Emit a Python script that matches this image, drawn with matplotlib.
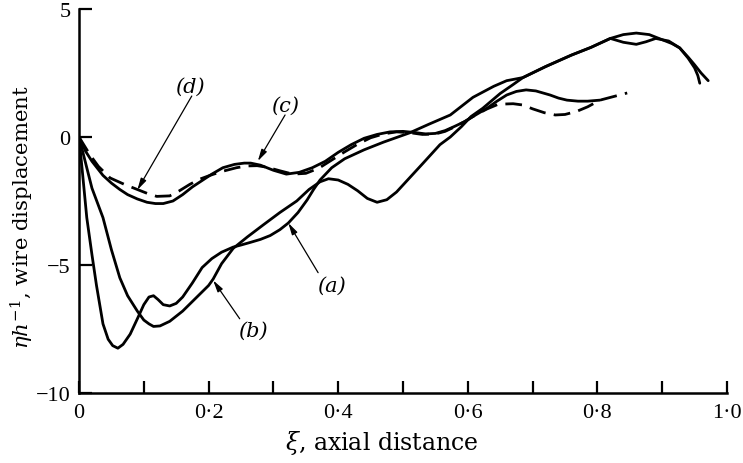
import numpy as np
import matplotlib.pyplot as plt

plt.rcParams['font.family'] = ['DejaVu Serif']
plt.rcParams['mathtext.fontset'] = 'dejavuserif'

# curve (a): deep minimum with a small bump
xa = [0, 0.005, 0.012, 0.02, 0.027, 0.037, 0.045, 0.052, 0.06, 0.068, 0.079, 0.091, 0.1,
      0.108, 0.115, 0.122, 0.13, 0.14, 0.15, 0.16, 0.175, 0.19, 0.205, 0.22, 0.238, 0.25,
      0.264, 0.28, 0.295, 0.31, 0.323, 0.338, 0.352, 0.362, 0.372, 0.39, 0.41, 0.44, 0.47,
      0.51, 0.54, 0.573, 0.608, 0.64, 0.66, 0.685, 0.72, 0.76, 0.79, 0.82, 0.84, 0.86,
      0.88, 0.9, 0.915, 0.927, 0.94, 0.95, 0.96, 0.971]
ya = [0, -1.3, -3.15, -4.6, -5.8, -7.3, -7.9, -8.15, -8.25, -8.1, -7.7, -7.05, -6.55,
      -6.25, -6.2, -6.35, -6.55, -6.6, -6.5, -6.25, -5.7, -5.1, -4.75, -4.5, -4.3, -4.22,
      -4.12, -4.0, -3.85, -3.62, -3.36, -2.95, -2.46, -2.05, -1.68, -1.2, -0.85, -0.5, -0.2,
      0.16, 0.5, 0.86, 1.55, 1.98, 2.2, 2.32, 2.75, 3.2, 3.5, 3.85, 4.0, 4.06,
      4.0, 3.8, 3.65, 3.48, 3.12, 2.82, 2.5, 2.2]

# curve (b)
xb = [0, 0.01, 0.02, 0.037, 0.05, 0.063, 0.075, 0.09, 0.1, 0.108, 0.115, 0.125, 0.14, 0.16,
      0.18, 0.2, 0.207, 0.22, 0.238, 0.26, 0.284, 0.31, 0.336, 0.355, 0.372, 0.385, 0.4,
      0.415, 0.43, 0.445, 0.46, 0.475, 0.49, 0.51, 0.53, 0.557, 0.573, 0.59, 0.605, 0.623,
      0.65, 0.67, 0.685, 0.72, 0.76, 0.79, 0.82, 0.84, 0.86, 0.875, 0.89, 0.91, 0.927,
      0.94, 0.95, 0.955, 0.958]
yb = [0, -1.0, -2.0, -3.15, -4.4, -5.5, -6.2, -6.8, -7.15, -7.3, -7.4, -7.38, -7.2, -6.8,
      -6.3, -5.8, -5.55, -4.95, -4.35, -3.9, -3.44, -2.95, -2.5, -2.05, -1.75, -1.63, -1.68,
      -1.85, -2.1, -2.4, -2.55, -2.45, -2.15, -1.6, -1.05, -0.3, 0.0, 0.4, 0.8, 1.12,
      1.7, 2.05, 2.32, 2.75, 3.2, 3.5, 3.85, 3.7, 3.62, 3.72, 3.85, 3.75, 3.48,
      3.08, 2.7, 2.4, 2.1]

# curve (c), solid
xc = [0, 0.01, 0.02, 0.037, 0.05, 0.063, 0.075, 0.09, 0.105, 0.118, 0.13, 0.145, 0.16,
      0.175, 0.19, 0.205, 0.222, 0.24, 0.255, 0.265, 0.28, 0.3, 0.32, 0.34, 0.36, 0.38, 0.4,
      0.42, 0.44, 0.46, 0.48, 0.5, 0.52, 0.535, 0.55, 0.565, 0.58, 0.595, 0.608, 0.62,
      0.63, 0.645, 0.66, 0.675, 0.69, 0.705, 0.727, 0.74, 0.753, 0.77, 0.785, 0.804]
yc = [0, -0.55, -0.95, -1.5, -1.8, -2.05, -2.25, -2.42, -2.55, -2.6, -2.6, -2.5, -2.25,
      -1.95, -1.7, -1.45, -1.2, -1.07, -1.02, -1.02, -1.1, -1.3, -1.45, -1.38, -1.2, -0.95,
      -0.6, -0.3, -0.05, 0.1, 0.2, 0.22, 0.17, 0.12, 0.14, 0.25, 0.42, 0.6, 0.8, 0.98,
      1.13, 1.4, 1.64, 1.78, 1.84, 1.8, 1.64, 1.52, 1.44, 1.4, 1.4, 1.44]

# curve (d), dashed
xd = [0, 0.017, 0.03, 0.048, 0.07, 0.09, 0.105, 0.12, 0.14, 0.155, 0.171, 0.186, 0.202,
      0.22, 0.243, 0.26, 0.275, 0.29, 0.31, 0.33, 0.35, 0.37, 0.39, 0.41, 0.43, 0.45, 0.47,
      0.49, 0.51, 0.53, 0.55, 0.565, 0.58, 0.595, 0.608, 0.62, 0.63, 0.647, 0.67, 0.685,
      0.7, 0.718, 0.735, 0.75, 0.768, 0.785, 0.804, 0.825, 0.846]
yd = [0, -0.7, -1.15, -1.6, -1.85, -2.05, -2.2, -2.32, -2.3, -2.1, -1.85, -1.65, -1.5,
      -1.35, -1.2, -1.13, -1.12, -1.18, -1.32, -1.45, -1.42, -1.22, -0.9, -0.58, -0.28,
      -0.03, 0.12, 0.2, 0.17, 0.1, 0.12, 0.22, 0.4, 0.6, 0.8, 0.97, 1.1, 1.28, 1.3, 1.25,
      1.1, 0.95, 0.86, 0.88, 1.0, 1.18, 1.44, 1.58, 1.72]

xticks = [0.1 * i for i in range(11)]
xticklabels = ['0', '', '0·2', '', '0·4', '', '0·6', '', '0·8', '', '1·0']
yticks = [5, 0, -5, -10]
yticklabels = ['5', '0', '\u22125', '\u221210']

# label text, text position, arrow tail, arrow tip
labels = ['(a)', '(b)', '(c)', '(d)']
label_pos = [(0.39, -5.8), (0.269, -7.55), (0.318, 1.25), (0.171, 1.99)]
arrow_tail = [(0.369, -5.3), (0.248, -7.1), (0.318, 0.86), (0.174, 1.6)]
arrow_tip = [(0.323, -3.36), (0.207, -5.6), (0.276, -0.94), (0.09, -2.07)]

fig = plt.figure(figsize=(7.43, 4.64), dpi=100)
ax = fig.add_axes([79 / 743, 1 - 394 / 464, 648 / 743, 384 / 464])

lw = 2.0
for xs, ys in [(xa, ya), (xb, yb), (xc, yc)]:
    ax.plot(xs, ys, color='k', lw=lw, solid_joinstyle='round', solid_capstyle='round')
ax.plot(xd, yd, color='k', lw=lw, linestyle=(0, (6, 3)))

for lab, p, t0, t1 in zip(labels, label_pos, arrow_tail, arrow_tip):
    ax.text(p[0], p[1], lab, fontsize=15, style='italic', ha='center', va='center')
    ax.annotate('', xy=t1, xytext=t0,
                arrowprops=dict(arrowstyle='-|>,head_length=0.7,head_width=0.18',
                                lw=0.9, color='k', shrinkA=0, shrinkB=0))

ax.set_xlim(0, 1.0)
ax.set_ylim(-10, 5)
ax.spines['top'].set_visible(False)
ax.spines['right'].set_visible(False)
ax.spines['left'].set_linewidth(1.8)
ax.spines['bottom'].set_linewidth(1.8)
ax.set_xticks(xticks)
ax.set_xticklabels(xticklabels, fontsize=16, family='Liberation Serif')
ax.set_yticks(yticks)
ax.set_yticklabels(yticklabels, fontsize=16, family='Liberation Serif')
ax.tick_params(direction='in', length=9, width=1.6, pad=7)
ax.tick_params(axis='y', pad=6)

fig.text(382 / 743, 1 - 443 / 464, r'$\xi$, axial distance', fontsize=17,
         ha='center', va='center')
fig.text(22 / 743, 1 - 217 / 464, r'$\eta h^{-1}$, wire displacement', fontsize=15.3,
         ha='center', va='center', rotation=90)

fig.savefig('out.png', dpi=100)
